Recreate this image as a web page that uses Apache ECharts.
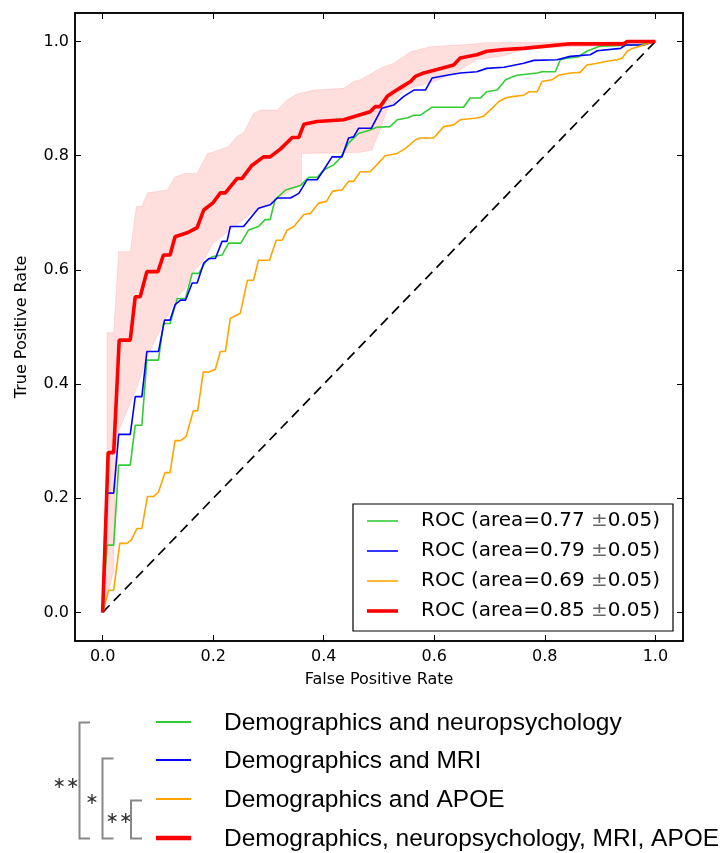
<!DOCTYPE html>
<html>
<head>
<meta charset="utf-8">
<script src="https://cdn.jsdelivr.net/npm/echarts@6/dist/echarts.min.js"></script>
<style>
html,body{margin:0;padding:0;background:#fff;}
#chart{width:724px;height:853px;}
</style>
</head>
<body>
<div id="chart"></div>
<script>
// ---------- DATA ----------
const tickValues = [0, 0.2, 0.4, 0.6, 0.8, 1.0];

const chanceLine = [[0, 0], [1, 1]];

// Demographics and neuropsychology (green)
const rocNeuro = [[0,0],[0.008,0.118],[0.02,0.118],[0.029,0.258],[0.05,0.258],[0.059,0.328],[0.071,0.328],[0.08,0.442],[0.101,0.442],[0.11,0.506],[0.122,0.506],[0.135,0.55],[0.15,0.55],[0.162,0.594],[0.174,0.594],[0.186,0.614],[0.198,0.623],[0.216,0.626],[0.228,0.647],[0.25,0.647],[0.264,0.67],[0.282,0.676],[0.294,0.688],[0.303,0.688],[0.312,0.723],[0.331,0.74],[0.358,0.748],[0.373,0.762],[0.388,0.762],[0.4,0.775],[0.418,0.784],[0.43,0.796],[0.445,0.822],[0.463,0.839],[0.484,0.845],[0.496,0.85],[0.52,0.851],[0.533,0.863],[0.551,0.866],[0.563,0.871],[0.575,0.871],[0.596,0.885],[0.653,0.885],[0.665,0.901],[0.683,0.901],[0.695,0.912],[0.714,0.915],[0.729,0.933],[0.741,0.938],[0.75,0.941],[0.786,0.945],[0.795,0.947],[0.819,0.947],[0.828,0.968],[0.84,0.971],[0.86,0.973],[0.876,0.983],[0.9,0.992],[0.967,0.994],[1,1]];

// Demographics and MRI (blue)
const rocMRI = [[0,0],[0.008,0.209],[0.02,0.209],[0.029,0.312],[0.05,0.312],[0.059,0.378],[0.071,0.378],[0.08,0.457],[0.101,0.457],[0.112,0.512],[0.122,0.512],[0.131,0.539],[0.141,0.547],[0.15,0.547],[0.162,0.577],[0.171,0.577],[0.183,0.612],[0.192,0.62],[0.204,0.62],[0.216,0.65],[0.225,0.65],[0.231,0.676],[0.255,0.676],[0.282,0.708],[0.303,0.714],[0.316,0.726],[0.34,0.726],[0.355,0.734],[0.37,0.758],[0.388,0.758],[0.4,0.775],[0.415,0.798],[0.433,0.798],[0.445,0.831],[0.454,0.833],[0.463,0.848],[0.486,0.848],[0.505,0.883],[0.527,0.889],[0.545,0.904],[0.563,0.915],[0.584,0.915],[0.596,0.936],[0.623,0.941],[0.647,0.945],[0.677,0.947],[0.695,0.953],[0.726,0.955],[0.762,0.962],[0.78,0.967],[0.822,0.968],[0.846,0.974],[0.882,0.977],[0.895,0.984],[0.937,0.988],[0.946,0.994],[0.979,0.994],[1,1]];

// Demographics and APOE (orange)
const rocAPOE = [[0,0],[0.011,0.039],[0.02,0.039],[0.031,0.121],[0.044,0.121],[0.052,0.127],[0.062,0.147],[0.071,0.147],[0.081,0.203],[0.092,0.203],[0.101,0.211],[0.113,0.245],[0.122,0.245],[0.131,0.301],[0.141,0.301],[0.151,0.308],[0.164,0.353],[0.172,0.353],[0.182,0.421],[0.192,0.421],[0.204,0.426],[0.213,0.457],[0.222,0.457],[0.231,0.515],[0.249,0.524],[0.262,0.582],[0.273,0.582],[0.282,0.617],[0.302,0.617],[0.314,0.652],[0.325,0.652],[0.334,0.67],[0.346,0.676],[0.364,0.697],[0.376,0.699],[0.391,0.717],[0.405,0.72],[0.416,0.738],[0.433,0.74],[0.445,0.755],[0.454,0.755],[0.466,0.772],[0.484,0.772],[0.499,0.787],[0.511,0.8],[0.533,0.804],[0.548,0.813],[0.566,0.828],[0.575,0.831],[0.599,0.831],[0.617,0.851],[0.635,0.854],[0.647,0.863],[0.677,0.866],[0.689,0.869],[0.701,0.88],[0.717,0.895],[0.729,0.901],[0.744,0.904],[0.762,0.906],[0.771,0.912],[0.786,0.912],[0.795,0.93],[0.813,0.933],[0.825,0.941],[0.846,0.945],[0.864,0.946],[0.876,0.959],[0.895,0.962],[0.91,0.965],[0.931,0.968],[0.94,0.971],[0.949,0.983],[0.958,0.988],[0.973,0.992],[0.985,0.996],[1,1]];

// Demographics, neuropsychology, MRI, APOE (red)
const rocAll = [[0,0],[0.01,0.28],[0.02,0.28],[0.03,0.477],[0.05,0.477],[0.059,0.553],[0.068,0.553],[0.08,0.597],[0.10,0.597],[0.11,0.626],[0.122,0.626],[0.131,0.658],[0.153,0.665],[0.171,0.674],[0.183,0.705],[0.20,0.718],[0.213,0.735],[0.222,0.735],[0.243,0.76],[0.252,0.76],[0.27,0.783],[0.291,0.798],[0.303,0.798],[0.322,0.812],[0.343,0.832],[0.355,0.832],[0.364,0.855],[0.388,0.86],[0.436,0.863],[0.46,0.87],[0.484,0.877],[0.493,0.886],[0.502,0.886],[0.515,0.904],[0.527,0.912],[0.542,0.921],[0.557,0.93],[0.566,0.939],[0.581,0.945],[0.605,0.951],[0.635,0.959],[0.647,0.971],[0.677,0.977],[0.695,0.983],[0.726,0.986],[0.762,0.988],[0.846,0.996],[0.943,0.996],[0.949,1.0],[1,1]];

// Confidence band of the red curve
const bandUpper = [[0,0],[0.008,0.073],[0.008,0.49],[0.02,0.49],[0.029,0.632],[0.05,0.632],[0.061,0.711],[0.071,0.711],[0.081,0.735],[0.117,0.74],[0.131,0.763],[0.15,0.769],[0.171,0.769],[0.189,0.803],[0.213,0.811],[0.228,0.816],[0.243,0.834],[0.255,0.84],[0.273,0.874],[0.285,0.88],[0.316,0.88],[0.334,0.898],[0.352,0.908],[0.382,0.915],[0.436,0.918],[0.454,0.93],[0.466,0.933],[0.508,0.956],[0.527,0.962],[0.557,0.982],[0.593,0.991],[0.647,0.994],[0.695,0.998],[1,1]];
const bandLower = [[0,0],[0.02,0.073],[0.022,0.2],[0.03,0.32],[0.062,0.395],[0.083,0.454],[0.113,0.512],[0.135,0.553],[0.15,0.568],[0.162,0.594],[0.183,0.617],[0.198,0.645],[0.219,0.661],[0.27,0.70],[0.322,0.728],[0.36,0.75],[0.36,0.804],[0.466,0.806],[0.487,0.81],[0.50,0.84],[0.515,0.88],[0.545,0.915],[0.6,0.93],[0.641,0.947],[0.677,0.968],[0.726,0.975],[0.768,0.988],[0.943,0.994],[1,1]];

const rocLabels = ['ROC (area=0.77 ', 'ROC (area=0.79 ', 'ROC (area=0.69 ', 'ROC (area=0.85 '];
const rocErrors = ['0.05)', '0.05)', '0.05)', '0.05)'];
const groupNames = ['Demographics and neuropsychology', 'Demographics and MRI', 'Demographics and APOE', 'Demographics, neuropsychology, MRI, APOE'];
const significance = ['\u2217\u2217', '\u2217', '\u2217\u2217'];

// ---------- STYLE ----------
const colors = ['#33cc33', '#0000ff', '#ffa500', '#ff0000'];
const widths = [1.6, 1.6, 1.6, 3.6];
const FONT = '"DejaVu Sans", sans-serif';

const chart = echarts.init(document.getElementById('chart'), null, {renderer: 'canvas'});

function lineSeries(name, data, i) {
  return {
    name: name, type: 'line', data: data, showSymbol: false, symbol: 'none',
    xAxisIndex: 0, yAxisIndex: 0, silent: true, animation: false,
    lineStyle: {color: colors[i], width: widths[i]}, z: 3 + i
  };
}

const tickAxisCommon = {
  type: 'value', min: -0.05, max: 1.05,
  splitLine: {show: false},
  axisLine: {show: true, onZero: false, lineStyle: {color: '#000', width: 1.5}},
  axisTick: {show: true, inside: true, length: 6, customValues: tickValues, lineStyle: {color: '#000', width: 1}},
};

const graphics = [];
// inner legend box
const lgX = 353, lgY = 504, lgW = 320, lgH = 127;
graphics.push({type: 'rect', z: 100, shape: {x: lgX, y: lgY, width: lgW, height: lgH},
  style: {fill: '#fff', stroke: '#000', lineWidth: 1.2}});
const lgRows = [521, 551, 581, 611];
for (let i = 0; i < 4; i++) {
  graphics.push({type: 'line', z: 101, shape: {x1: 367, y1: lgRows[i], x2: 398, y2: lgRows[i]},
    style: {stroke: colors[i], lineWidth: widths[i]}});
  graphics.push({type: 'text', z: 101, x: 421, y: lgRows[i],
    style: {text: rocLabels[i] + '{pm|\u00b1}' + rocErrors[i], font: '20px ' + FONT, fill: '#000',
      verticalAlign: 'middle', align: 'left',
      rich: {pm: {font: '20px ' + FONT, fill: '#666'}}}});
}
// bottom legend
const blRows = [722, 760, 799, 838];
for (let i = 0; i < 4; i++) {
  graphics.push({type: 'line', z: 101, shape: {x1: 156, y1: blRows[i], x2: 191, y2: blRows[i]},
    style: {stroke: colors[i], lineWidth: i === 3 ? 4.5 : 2}});
  graphics.push({type: 'text', z: 101, x: 224, y: blRows[i] + 1,
    style: {text: groupNames[i], font: '24.5px "Liberation Sans", Arial, sans-serif', fill: '#000',
      verticalAlign: 'middle', align: 'left'}});
}
// significance brackets
const brackets = [
  {x: 79.5, xe: 90, y1: 722.5, y2: 838.5},
  {x: 102.5, xe: 113.5, y1: 758.5, y2: 838.5},
  {x: 131, xe: 142, y1: 800.5, y2: 838.5}
];
brackets.forEach(function (b) {
  graphics.push({type: 'polyline', z: 101,
    shape: {points: [[b.xe, b.y1], [b.x, b.y1], [b.x, b.y2], [b.xe, b.y2]]},
    style: {stroke: '#888', lineWidth: 2, fill: null}});
});
const sigPos = [[66, 784], [92, 800], [119, 819]];
for (let i = 0; i < 3; i++) {
  graphics.push({type: 'text', z: 101, x: sigPos[i][0], y: sigPos[i][1],
    style: {text: significance[i], font: '16px ' + FONT, fill: '#333', align: 'center', verticalAlign: 'middle'}});
}

const option = {
  backgroundColor: '#fff',
  animation: false,
  grid: {left: 75, top: 13, width: 608, height: 628, containLabel: false, outerBoundsMode: 'none',
    show: true, borderColor: '#000', borderWidth: 1.5, backgroundColor: 'transparent'},
  xAxis: [
    Object.assign({}, tickAxisCommon, {
      position: 'bottom',
      name: 'False Positive Rate', nameLocation: 'middle', nameGap: 31,
      nameTextStyle: {fontFamily: FONT, fontSize: 16, color: '#000'},
      axisLabel: {show: true, customValues: tickValues, margin: 8, fontFamily: FONT, fontSize: 16, color: '#000',
        formatter: function (v) { return v.toFixed(1); }}
    }),
    Object.assign({}, tickAxisCommon, {position: 'top', axisLabel: {show: false}})
  ],
  yAxis: [
    Object.assign({}, tickAxisCommon, {
      position: 'left',
      name: 'True Positive Rate', nameLocation: 'middle', nameGap: 45,
      nameTextStyle: {fontFamily: FONT, fontSize: 16, color: '#000'},
      axisLabel: {show: true, customValues: tickValues, margin: 6, fontFamily: FONT, fontSize: 16, color: '#000',
        formatter: function (v) { return v.toFixed(1); }}
    }),
    Object.assign({}, tickAxisCommon, {position: 'right', axisLabel: {show: false}})
  ],
  series: [
    {
      type: 'custom', name: 'band', xAxisIndex: 0, yAxisIndex: 0, silent: true, z: 1,
      data: [[0, 0]],
      renderItem: function (params, api) {
        const pts = [];
        bandLower.forEach(function (p) { pts.push(api.coord(p)); });
        for (let k = bandUpper.length - 1; k >= 0; k--) pts.push(api.coord(bandUpper[k]));
        return {type: 'polygon', shape: {points: pts},
          style: {fill: 'rgba(255,0,0,0.13)', stroke: 'rgba(255,0,0,0.10)', lineWidth: 1}};
      }
    },
    {
      type: 'line', name: 'chance', data: chanceLine, showSymbol: false, symbol: 'none', silent: true,
      xAxisIndex: 0, yAxisIndex: 0, z: 2,
      lineStyle: {color: '#000', width: 1.7, type: [10, 6]}
    },
    lineSeries('neuro', rocNeuro, 0),
    lineSeries('mri', rocMRI, 1),
    lineSeries('apoe', rocAPOE, 2),
    lineSeries('all', rocAll, 3)
  ],
  graphic: graphics
};
chart.setOption(option);
</script>
</body>
</html>
